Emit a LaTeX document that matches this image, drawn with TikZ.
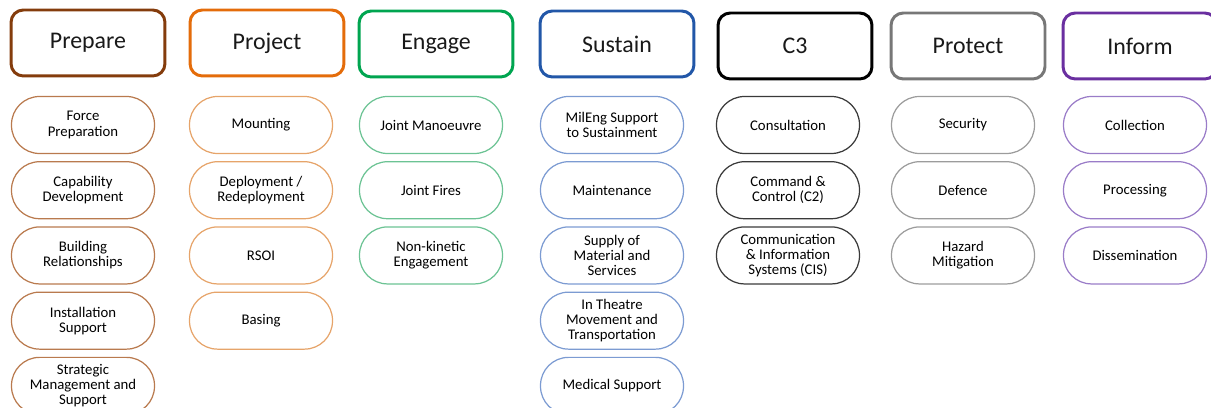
\documentclass[tikz,border=0pt]{standalone}
\usepackage{fontspec}
\setmainfont{Carlito}
\usetikzlibrary{positioning}

\definecolor{prepcol}{HTML}{843C0C}
\definecolor{prepline}{HTML}{B97A4E}
\definecolor{projcol}{HTML}{E46C0A}
\definecolor{projline}{HTML}{E6A46A}
\definecolor{engcol}{HTML}{00A550}
\definecolor{engline}{HTML}{6CC394}
\definecolor{suscol}{HTML}{2257A8}
\definecolor{susline}{HTML}{7C9BD2}
\definecolor{cthreeline}{HTML}{3A3A3A}
\definecolor{protcol}{HTML}{777777}
\definecolor{protline}{HTML}{9C9C9C}
\definecolor{infcol}{HTML}{6A2FA0}
\definecolor{infline}{HTML}{9A7CC8}

\tikzset{
  header/.style={draw=#1, line width=1.7pt, rounded corners=7pt,
    minimum width=3.08cm, minimum height=1.32cm,
    font=\fontsize{13.6}{15}\selectfont, text=black!90},
  pill/.style={draw=#1, line width=0.7pt, rounded corners=0.56cm,
    minimum width=2.86cm, minimum height=1.14cm, align=center,
    font=\fontsize{8.4}{8.6}\selectfont, text=black,
    node distance=0.14cm},
}

\begin{document}
\begin{tikzpicture}[x=0.02cm, y=-0.02cm]
\useasboundingbox (0,0) rectangle (1211,408);

% column headers
\node [header=prepcol] (prepare) at (88,43) {Prepare};
\node [header=projcol] (project) at (267,43) {Project};
\node [header=engcol] (engage) at (436,44) {Engage};
\node [header=suscol] (sustain) at (617,44) {Sustain};
\node [header=black] (cthree) at (795,46) {C3};
\node [header=protcol] (protect) at (968,46) {Protect};
\node [header=infcol] (inform) at (1140,46) {Inform};

% Prepare
\node [pill=prepline] (forceprep) at (83,125) {Force\\Preparation};
\node [pill=prepline, below=of forceprep] (capdev) {Capability\\Development};
\node [pill=prepline, below=of capdev] (buildrel) {Building\\Relationships};
\node [pill=prepline, below=of buildrel] (instsupp) {Installation\\Support};
\node [pill=prepline, below=of instsupp] (stratman) {Strategic\\Management and\\Support};

% Project
\node [pill=projline] (mounting) at (261,125) {Mounting};
\node [pill=projline, below=of mounting] (deploy) {Deployment /\\Redeployment};
\node [pill=projline, below=of deploy] (rsoi) {RSOI};
\node [pill=projline, below=of rsoi] (basing) {Basing};

% Engage
\node [pill=engline] (jointman) at (431,125) {Joint Manoeuvre};
\node [pill=engline, below=of jointman] (jointfires) {Joint Fires};
\node [pill=engline, below=of jointfires] (nonkin) {Non-kinetic\\Engagement};

% Sustain
\node [pill=susline] (mileng) at (612,125) {MilEng Support\\to Sustainment};
\node [pill=susline, below=of mileng] (maint) {Maintenance};
\node [pill=susline, below=of maint] (supply) {Supply of\\Material and\\Services};
\node [pill=susline, below=of supply] (movement) {In Theatre\\Movement and\\Transportation};
\node [pill=susline, below=of movement] (medical) {Medical Support};

% C3
\node [pill=cthreeline] (consult) at (788,125) {Consultation};
\node [pill=cthreeline, below=of consult] (command) {Command \&\\Control (C2)};
\node [pill=cthreeline, below=of command] (cis) {Communication\\\& Information\\Systems (CIS)};

% Protect
\node [pill=protline] (security) at (963,125) {Security};
\node [pill=protline, below=of security] (defence) {Defence};
\node [pill=protline, below=of defence] (hazard) {Hazard\\Mitigation};

% Inform
\node [pill=infline] (collect) at (1135,125) {Collection};
\node [pill=infline, below=of collect] (process) {Processing};
\node [pill=infline, below=of process] (dissem) {Dissemination};
\end{tikzpicture}
\end{document}
